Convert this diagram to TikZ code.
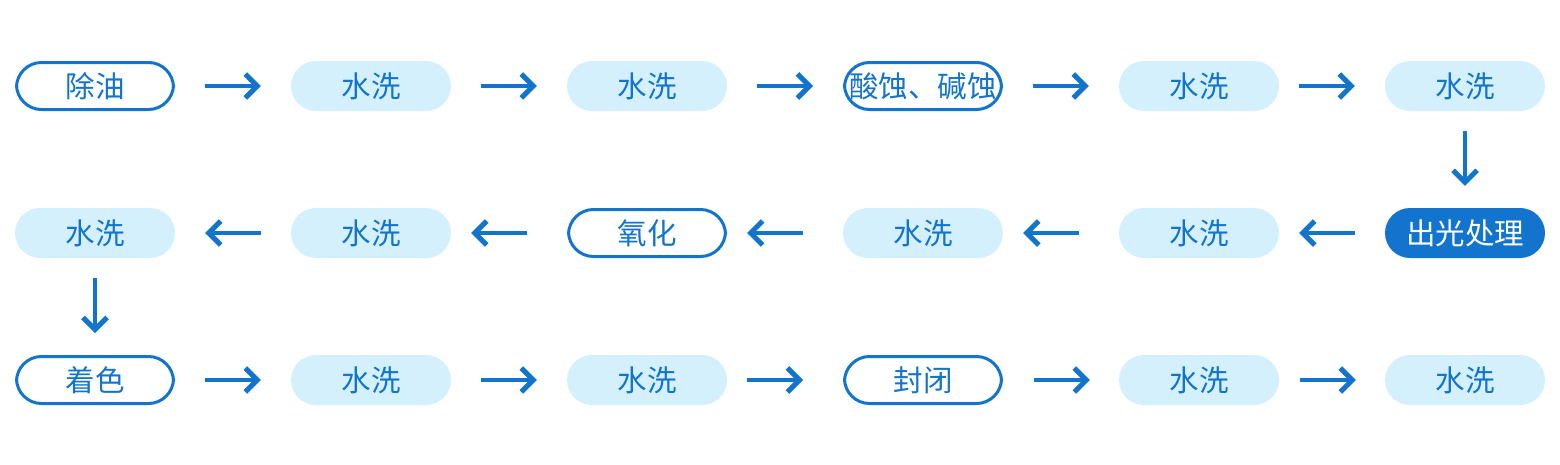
\documentclass[tikz,border=0pt]{standalone}
\usepackage{fontspec}
\setmainfont{Noto Sans CJK SC}
\usetikzlibrary{arrows.meta}
\definecolor{mblue}{HTML}{1274CC}
\definecolor{mlight}{HTML}{D4F0FD}
\tikzset{
  base/.style={rounded corners=25pt, minimum width=160pt, minimum height=50pt, inner sep=0pt, text=mblue, font=\fontsize{29.5}{31}\selectfont},
  wash/.style={base, fill=mlight},
  proc/.style={base, draw=mblue, line width=3pt, fill=white, minimum width=157pt, minimum height=47pt},
  hot/.style={base, fill=mblue, text=white},
  flow/.style={draw=mblue, line width=4pt, -{Straight Barb[length=12pt,width=24pt,line width=5pt,line cap=butt,line join=miter]}},
}
\begin{document}
\begin{tikzpicture}[x=1pt,y=-1pt]
\useasboundingbox (0,0) rectangle (1560,464);
% row 1
\node[proc] (a1) at (95,86) {除油};
\node[wash] (a2) at (371,86) {水洗};
\node[wash] (a3) at (647,86) {水洗};
\node[proc] (a4) at (923,86) {酸蚀、碱蚀};
\node[wash] (a5) at (1199,86) {水洗};
\node[wash] (a6) at (1465,86) {水洗};
% row 2
\node[wash] (b1) at (95,233) {水洗};
\node[wash] (b2) at (371,233) {水洗};
\node[proc] (b3) at (647,233) {氧化};
\node[wash] (b4) at (923,233) {水洗};
\node[wash] (b5) at (1199,233) {水洗};
\node[hot] (b6) at (1465,233) {出光处理};
% row 3
\node[proc] (c1) at (95,380) {着色};
\node[wash] (c2) at (371,380) {水洗};
\node[wash] (c3) at (647,380) {水洗};
\node[proc] (c4) at (923,380) {封闭};
\node[wash] (c5) at (1199,380) {水洗};
\node[wash] (c6) at (1465,380) {水洗};
% arrows row 1
\draw[flow] ([xshift=30pt]a1.east) -- ([xshift=-30pt]a2.west);
\draw[flow] ([xshift=30pt]a2.east) -- ([xshift=-30pt]a3.west);
\draw[flow] ([xshift=30pt]a3.east) -- ([xshift=-30pt]a4.west);
\draw[flow] ([xshift=30pt]a4.east) -- ([xshift=-30pt]a5.west);
\draw[flow] ([xshift=20pt]a5.east) -- ([xshift=-30pt]a6.west);
% down
\draw[flow] ([yshift=-20pt]a6.south) -- ([yshift=22pt]b6.north);
% row 2
\draw[flow] ([xshift=-30pt]b6.west) -- ([xshift=20pt]b5.east);
\draw[flow] ([xshift=-40pt]b5.west) -- ([xshift=20pt]b4.east);
\draw[flow] ([xshift=-40pt]b4.west) -- ([xshift=20pt]b3.east);
\draw[flow] ([xshift=-40pt]b3.west) -- ([xshift=20pt]b2.east);
\draw[flow] ([xshift=-30pt]b2.west) -- ([xshift=30pt]b1.east);
% down
\draw[flow] ([yshift=-20pt]b1.south) -- ([yshift=22pt]c1.north);
% row 3
\draw[flow] ([xshift=30pt]c1.east) -- ([xshift=-30pt]c2.west);
\draw[flow] ([xshift=30pt]c2.east) -- ([xshift=-30pt]c3.west);
\draw[flow] ([xshift=20pt]c3.east) -- ([xshift=-40pt]c4.west);
\draw[flow] ([xshift=31pt]c4.east) -- ([xshift=-29pt]c5.west);
\draw[flow] ([xshift=21pt]c5.east) -- ([xshift=-29pt]c6.west);
\end{tikzpicture}
\end{document}
